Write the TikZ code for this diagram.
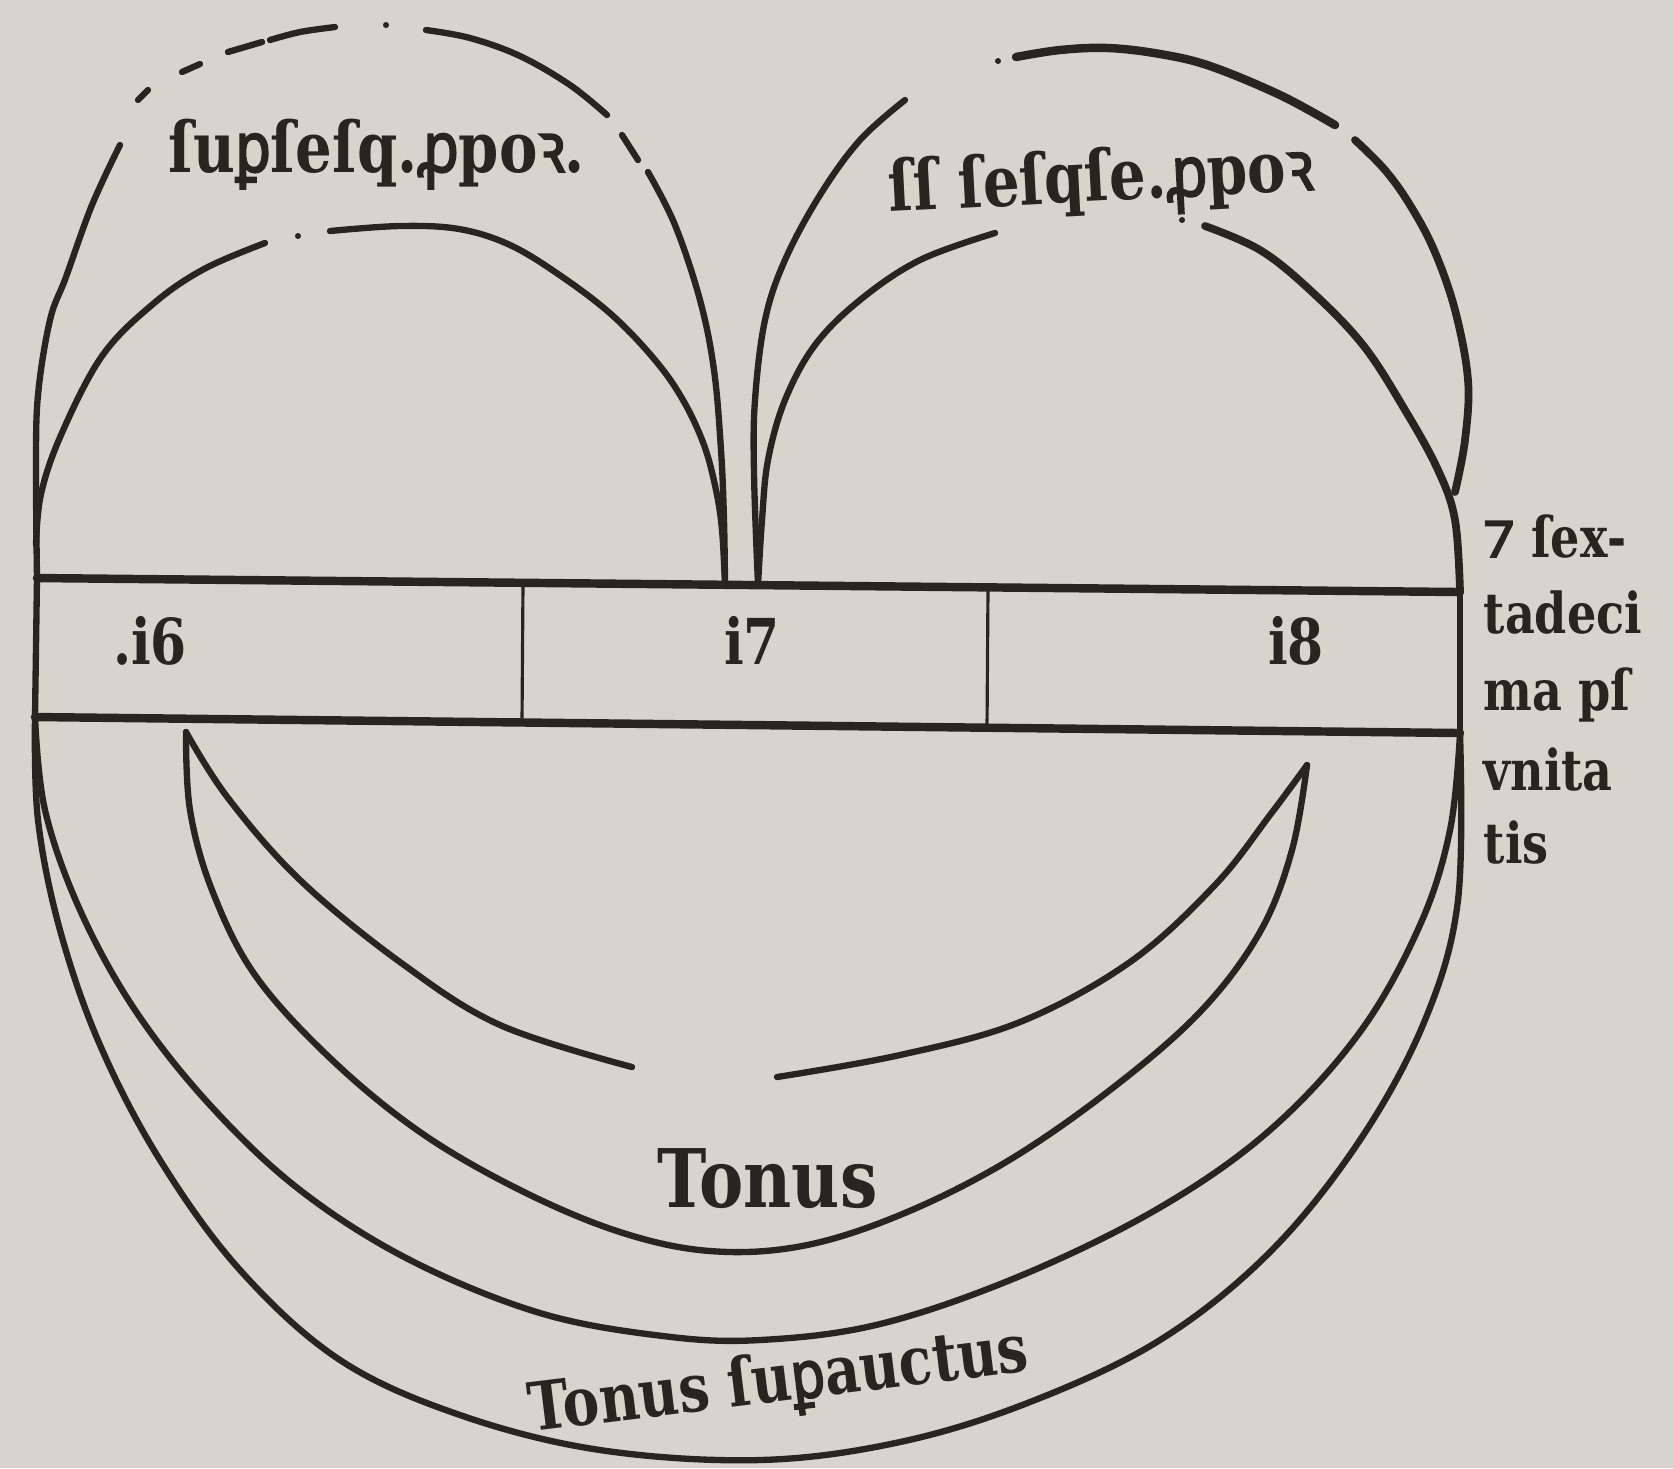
\documentclass[tikz,border=0pt]{standalone}
\usepackage{fontspec}
\usepackage{xcolor}
\usepackage{tikz}
\usetikzlibrary{positioning}

\newfontfamily\printfont[FakeStretch=0.82]{DejaVu Serif}
\newfontfamily\medfont[FakeStretch=0.82,FakeBold=2.5]{Noto Sans}
\newcommand\medper{{\medfont ꝑ}}
\newcommand\medpro{{\medfont ꝓ}}
\newcommand\medr{{\medfont ꝛ}}
\newcommand\medet{{\medfont\fontsize{19}{20}\selectfont ⁊}}
\definecolor{paper}{RGB}{215,212,205}
\definecolor{ink}{RGB}{40,36,32}

\begin{document}
\begin{tikzpicture}[
  x=0.01cm, y=-0.01cm,
  every node/.style={inner sep=0pt, text=ink, font=\printfont\bfseries},
  bandline/.style={draw=ink, line width=2.4pt, line cap=round},
  cutline/.style={draw=ink, line width=0.9pt},
  woodline/.style={draw=ink, line width=1.8pt, line cap=round, smooth, tension=0.6},
  ratiotext/.style={font=\printfont\bfseries\fontsize{20}{24}\selectfont, anchor=base west},
  numtext/.style={font=\printfont\bfseries\fontsize{18}{22}\selectfont, anchor=base},
  sidetext/.style={font=\printfont\bfseries\fontsize{16}{20}\selectfont, anchor=base west},
  tonetext/.style={font=\printfont\bfseries\fontsize{23}{27}\selectfont, anchor=base west},
]

% Paper
\fill[paper] (0,0) rectangle (1673,1468);
\useasboundingbox (0,0) rectangle (1673,1468);

% Corners of the band
\coordinate (TL) at (37,578);
\coordinate (TR) at (1460,592);
\coordinate (BL) at (35,717);
\coordinate (BR) at (1460,733);
\coordinate (D1t) at (523,583);
\coordinate (D1b) at (522,722);
\coordinate (D2t) at (988,588);
\coordinate (D2b) at (987,728);

% Feet of the arcs
\coordinate (ML) at (725,585);
\coordinate (MR) at (758,585);
\coordinate (CL) at (186,732);
\coordinate (CR) at (1307,765);

% Band
\draw[bandline] (TL) -- (TR);
\draw[bandline] (BL) -- (BR);
\draw[woodline] (TL) -- (BL);
\draw[woodline] (TR) -- (BR);
\draw[cutline] (D1t) -- (D1b);
\draw[cutline] (D2t) -- (D2b);

% Numbers in the band
\node[numtext] (n16) at (150,664) {.i6};
\node[numtext] (n17) at (752,664) {i7};
\node[numtext] (n18) at (1296,664) {i8};

% Upper arcs (left) - outer one, broken at the top
\draw[woodline] plot coordinates {(TL) (36,470) (38,395) (50,320) (66,277) (92,205) (120,145)};
\draw[woodline] plot coordinates {(138,100) (148,90)};
\draw[woodline] plot coordinates {(182,72) (200,64)};
\draw[woodline] plot coordinates {(228,52) (262,42)};
\draw[woodline] plot coordinates {(270,40) (300,32) (335,27)};
\fill[ink] (386,25) circle (3);
\draw[woodline] plot coordinates {(426,30) (470,38) (520,56) (570,85) (607,115)};
\draw[woodline] plot coordinates {(622,135) (638,160)};
\draw[woodline] plot coordinates {(648,172) (675,225) (700,300) (714,370) (721,450) (724,520) (ML)};

% Upper arcs (left) - inner one
\draw[woodline] plot coordinates {(36,545) (41,494) (61,435) (102,356) (153,304) (204,269) (265,243)};
\fill[ink] (298,236) circle (3);
\draw[woodline] plot coordinates {(330,231) (400,226) (459,229) (510,245) (561,276) (612,315) (655,360) (683,400) (704,445) (716,490) (722,530) (ML)};

% Upper arcs (right) - outer one
\draw[woodline] plot coordinates {(MR) (754,474) (755,400) (765,320) (785,260) (820,195) (860,140) (905,100)};
\fill[ink] (998,61) circle (3);
\draw[woodline, line width=2.4pt] plot coordinates {(1016,57) (1060,50) (1108,48) (1160,54) (1210,66) (1280,95) (1335,125)};
\draw[woodline, line width=2.2pt] plot coordinates {(1355,140) (1385,170) (1410,205) (1434,250) (1455,310) (1468,380) (1465,440) (1455,492)};

% Upper arcs (right) - inner one
\draw[woodline] plot coordinates {(MR) (762,520) (768,460) (785,400) (815,345) (860,300) (920,260) (995,233)};
\fill[ink] (1182,220) circle (3);
\draw[woodline, line width=2.2pt] plot coordinates {(1205,226) (1260,250) (1310,290) (1363,345) (1405,410) (1438,470) (1455,520) (TR)};

% Upper labels
\node[ratiotext] (supra) at (168,172) {ſu\medper ſeſq.\medpro po\medr.};
\node[ratiotext, rotate=3] (infra) at (889,212) {ſſ ſeſqſe.\medpro po\medr};

% Side note
\node[sidetext] (note1) at (1483,557) {\medet{} ſex-};
\node[sidetext] (note2) at (1483,633) {tadeci};
\node[sidetext] (note3) at (1483,710) {ma pſ};
\node[sidetext] (note4) at (1483,790) {vnita};
\node[sidetext] (note5) at (1483,863) {tis};

% Lower crescent (16 to 18)
\draw[woodline] plot coordinates {(CL) (228,798) (300,880) (400,962) (500,1025) (632,1067)};
\draw[woodline] plot coordinates {(777,1077) (900,1055) (1020,1022) (1130,962) (1215,885) (1270,815) (CR)};
\draw[woodline] plot coordinates {(CL) (190,810) (212,890) (255,975) (330,1058) (420,1132) (520,1190) (620,1232) (710,1251) (802,1246) (900,1215) (1006,1162) (1110,1090) (1200,1012) (1260,932) (1292,850) (CR)};

% Lower arcs (16 to 18, whole band)
\draw[woodline] plot coordinates {(BL) (45,810) (80,910) (135,1010) (210,1105) (300,1190) (410,1260) (540,1313) (663,1336) (760,1340) (880,1324) (1020,1276) (1159,1208) (1270,1130) (1360,1032) (1420,925) (1450,830) (BR)};
\draw[woodline] plot coordinates {(BL) (38,820) (60,930) (100,1045) (160,1160) (240,1270) (340,1360) (460,1415) (600,1450) (760,1460) (900,1442) (1030,1402) (1160,1340) (1270,1252) (1360,1140) (1425,1020) (1458,900) (BR)};

% Lower labels
\node[tonetext] (tone) at (657,1207) {Tonus};
\node[tonetext, rotate=7, font=\printfont\bfseries\fontsize{19}{23}\selectfont] (toneplus) at (531,1432) {Tonus ſu\medper auctus};

\end{tikzpicture}
\end{document}
